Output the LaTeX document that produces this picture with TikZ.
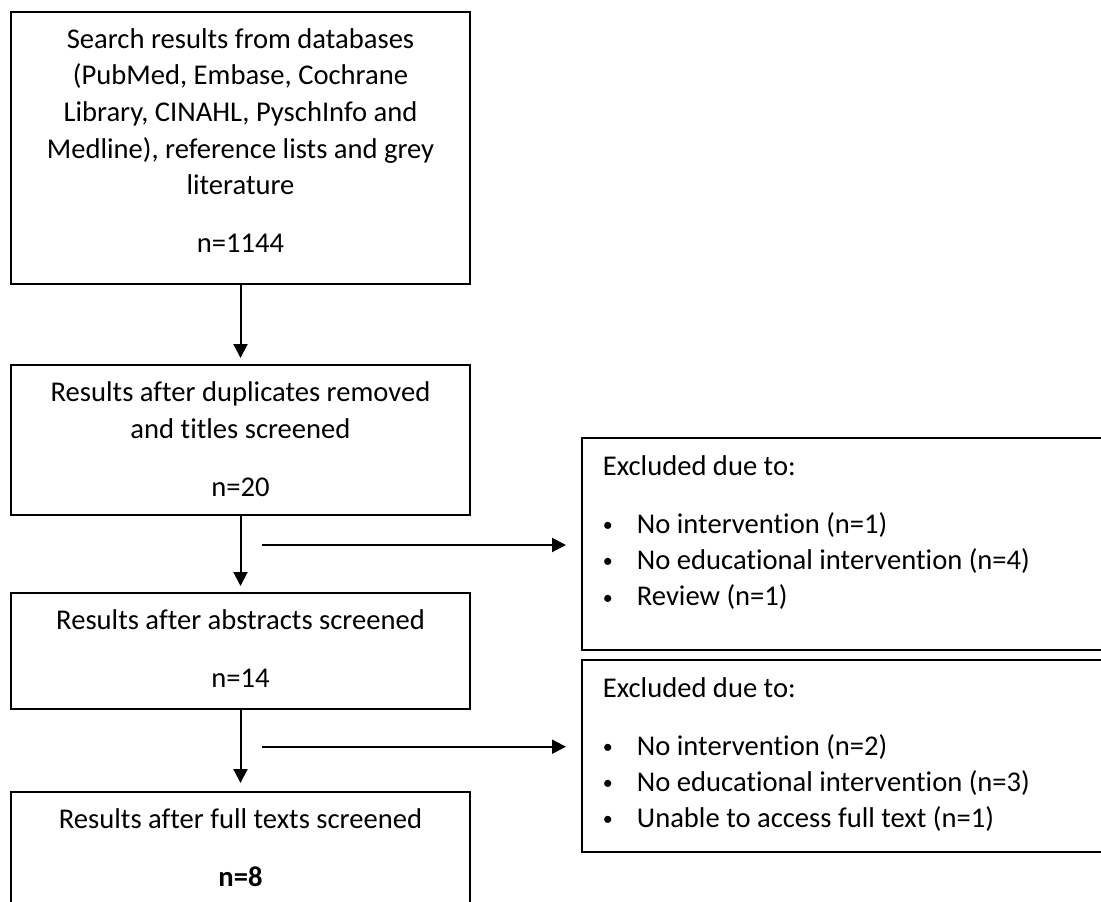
\documentclass[tikz,border=0pt]{standalone}
\usepackage{fontspec}
\setmainfont{Carlito}[Ligatures=NoCommon]
\usetikzlibrary{arrows.meta,calc}
\newcommand{\bul}{\makebox[34pt][l]{\raisebox{1.5pt}{\fontsize{20}{20}\selectfont •}}}
\begin{document}
\begin{tikzpicture}[x=1pt,y=-1pt,
  box/.style={draw=black,line width=2pt,rectangle,inner sep=0pt,fill=white},
  ctxt/.style={inner sep=0pt,font=\fontsize{28.6}{36.6}\selectfont},
  ltxt/.style={inner sep=0pt,font=\fontsize{28.6}{36.1}\selectfont},
  arr/.style={line width=2pt,-{Triangle[length=14pt,width=14pt]}}]
\useasboundingbox[fill=white] (0,0) rectangle (1101,902);
% main boxes
\node[box,minimum width=459pt,minimum height=272pt] (b1) at (240.5,148) {};
\node[box,minimum width=459pt,minimum height=150pt] (b2) at (240.5,440) {};
\node[box,minimum width=459pt,minimum height=116pt] (b3) at (240.5,651) {};
\node[box,minimum width=459pt,minimum height=120pt] (b4) at (240.5,852) {};
% exclusion boxes
\node[box,minimum width=520pt,minimum height=212pt] (e1) at (842,544) {};
\node[box,minimum width=520pt,minimum height=192pt] (e2) at (842,756) {};
% texts
\node[ctxt,anchor=base] (t1) at (240.5,48.3) {\parbox[t]{450pt}{\centering
Search results from databases\\
(PubMed, Embase, Cochrane\\
Library, CINAHL, PyschInfo and\\
Medline), reference lists and grey\\
literature\\[21.4pt]
n=1144}};
\node[ctxt,anchor=base] (t2) at (240.5,401.7) {\parbox[t]{450pt}{\centering
Results after duplicates removed\\
and titles screened\\[21.4pt]
n=20}};
\node[ctxt,anchor=base] (t3) at (240.5,629.3) {\parbox[t]{450pt}{\centering
Results after abstracts screened\\[21.4pt]
n=14}};
\node[ctxt,anchor=base] (t4) at (240.5,828.3) {\parbox[t]{450pt}{\centering
Results after full texts screened\\[21.4pt]
\textbf{n=8}}};
\node[ltxt,anchor=base west] (x1) at (602.7,475) {\parbox[t]{490pt}{\raggedright
Excluded due to:\\[22.2pt]
\bul No intervention (n=1)\\
\bul No educational intervention (n=4)\\
\bul Review (n=1)}};
\node[ltxt,anchor=base west] (x2) at (602.7,697.3) {\parbox[t]{490pt}{\raggedright
Excluded due to:\\[21.6pt]
\bul No intervention (n=2)\\
\bul No educational intervention (n=3)\\
\bul Unable to access full text (n=1)}};
% connectors
\draw[arr,shorten >=6pt] (b1.south) -- (b2.north);
\draw[arr,shorten >=6pt] (b2.south) -- (b3.north);
\draw[arr,shorten >=8pt] (b3.south) -- (b4.north);
\coordinate (h1) at (262,545);
\coordinate (h2) at (262,746.7);
\draw[arr,shorten >=15pt] (h1) -- (h1 -| e1.west);
\draw[arr,shorten >=15pt] (h2) -- (h2 -| e2.west);
\end{tikzpicture}
\end{document}
